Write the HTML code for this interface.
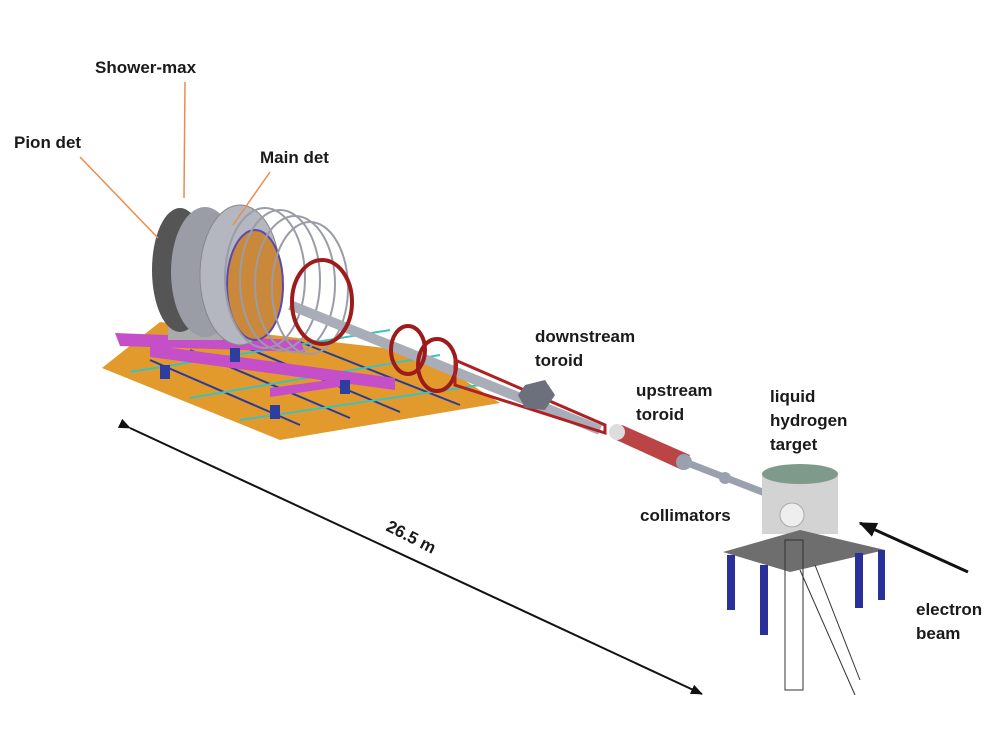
<!DOCTYPE html>
<html><head><meta charset="utf-8"><style>
body{margin:0;background:#fff}
svg{display:block}
text{font-family:"Liberation Sans",sans-serif;font-weight:bold;fill:#1a1a1a;font-size:17px}
</style></head><body>
<svg width="1002" height="730" viewBox="0 0 1002 730">
<defs>
<marker id="ah" markerWidth="6" markerHeight="5" refX="5.5" refY="2.5" orient="auto"><path d="M0,0 L6,2.5 L0,5 z" fill="#111"/></marker>
</defs>
<g>
<polygon points="102,368 280,440 500,403 420,352 160,322" fill="#e39a2c"/>
<g stroke="#2a3a9a" stroke-width="2">
<line x1="150" y1="360" x2="300" y2="425"/><line x1="190" y1="350" x2="350" y2="418"/>
<line x1="240" y1="345" x2="400" y2="412"/><line x1="300" y1="342" x2="460" y2="405"/>
</g>
<g stroke="#3ec0c0" stroke-width="2">
<line x1="130" y1="372" x2="390" y2="330"/><line x1="190" y1="398" x2="440" y2="355"/><line x1="240" y1="420" x2="480" y2="385"/>
</g>
<polygon points="115,333 300,340 305,352 120,346" fill="#c54fc8"/>
<polygon points="150,345 395,378 395,390 150,357" fill="#c54fc8"/>
<polygon points="270,388 345,378 345,386 270,397" fill="#c54fc8"/>
<rect x="230" y="348" width="10" height="14" fill="#2e3e9e"/><rect x="160" y="365" width="10" height="14" fill="#2e3e9e"/>
<rect x="340" y="380" width="10" height="14" fill="#2e3e9e"/><rect x="270" y="405" width="10" height="14" fill="#2e3e9e"/>
</g>
<g fill="none">
<rect x="168" y="290" width="55" height="50" fill="#aaa"/>
<ellipse cx="180" cy="270" rx="28" ry="62" fill="#555"/>
<ellipse cx="205" cy="272" rx="34" ry="65" fill="#9a9ca6"/>
<ellipse cx="240" cy="275" rx="40" ry="70" fill="#b4b6c0" stroke="#888"/>
<ellipse cx="255" cy="285" rx="28" ry="55" fill="#c9883a" stroke="#5a4ab0" stroke-width="2"/>
<g stroke="#9a9ca6" stroke-width="2">
<ellipse cx="265" cy="278" rx="40" ry="70"/><ellipse cx="280" cy="280" rx="40" ry="70"/><ellipse cx="295" cy="284" rx="40" ry="68"/><ellipse cx="310" cy="288" rx="38" ry="66"/>
</g>
</g>
<line x1="290" y1="305" x2="600" y2="430" stroke="#a8adb8" stroke-width="10"/>
<g fill="none" stroke="#9e1b1b" stroke-width="4">
<ellipse cx="322" cy="302" rx="30" ry="42"/><ellipse cx="408" cy="350" rx="17" ry="24"/><ellipse cx="437" cy="365" rx="19" ry="26"/>
</g>
<polygon points="455,360 605,425 605,433 455,385" fill="none" stroke="#b02020" stroke-width="3"/>
<polygon points="525,385 545,380 555,395 545,410 525,408 518,395" fill="#6c707c"/>
<g>
<polygon points="612,438 622,425 690,455 682,470" fill="#bb4444"/>
<ellipse cx="617" cy="432" rx="8" ry="8" fill="#ddd"/>
<line x1="680" y1="460" x2="770" y2="495" stroke="#9aa0ad" stroke-width="7"/>
<circle cx="684" cy="462" r="8" fill="#9aa0ad"/><circle cx="725" cy="478" r="6" fill="#9aa0ad"/>
</g>
<g>
<rect x="762" y="474" width="76" height="60" fill="#d3d3d3"/>
<ellipse cx="800" cy="474" rx="38" ry="10" fill="#7f9a8a"/>
<circle cx="792" cy="515" r="12" fill="#eee" stroke="#aaa"/>
<polygon points="723,552 800,530 885,550 790,572" fill="#6e6e6e"/>
<g fill="#2a2f9a">
<rect x="727" y="555" width="8" height="55"/><rect x="760" y="565" width="8" height="70"/>
<rect x="855" y="553" width="8" height="55"/><rect x="878" y="550" width="7" height="50"/>
</g>
<g stroke="#333" fill="none" stroke-width="1">
<rect x="785" y="540" width="18" height="150"/><line x1="800" y1="570" x2="855" y2="695"/><line x1="815" y1="565" x2="860" y2="680"/>
</g>
</g>
<line x1="130" y1="428" x2="702" y2="694" stroke="#111" stroke-width="2" marker-start="url(#ah)" marker-end="url(#ah)"/>
<line x1="968" y1="572" x2="860" y2="523" stroke="#111" stroke-width="3" marker-end="url(#ah)"/>
<g stroke="#f08a4a" stroke-width="1.5">
<line x1="80" y1="157" x2="158" y2="238"/><line x1="185" y1="82" x2="184" y2="198"/><line x1="270" y1="172" x2="233" y2="225"/>
</g>
<text x="95" y="73">Shower-max</text>
<text x="14" y="148">Pion det</text>
<text x="260" y="163">Main det</text>
<text x="535" y="342"><tspan x="535">downstream</tspan><tspan x="535" dy="24">toroid</tspan></text>
<text x="636" y="396"><tspan x="636">upstream</tspan><tspan x="636" dy="24">toroid</tspan></text>
<text x="770" y="402"><tspan x="770">liquid</tspan><tspan x="770" dy="24">hydrogen</tspan><tspan x="770" dy="24">target</tspan></text>
<text x="640" y="521">collimators</text>
<text x="916" y="615"><tspan x="916">electron</tspan><tspan x="916" dy="24">beam</tspan></text>
<text x="385" y="530" transform="rotate(27 385 530)" font-size="15">26.5 m</text>
</svg>
</body></html>
